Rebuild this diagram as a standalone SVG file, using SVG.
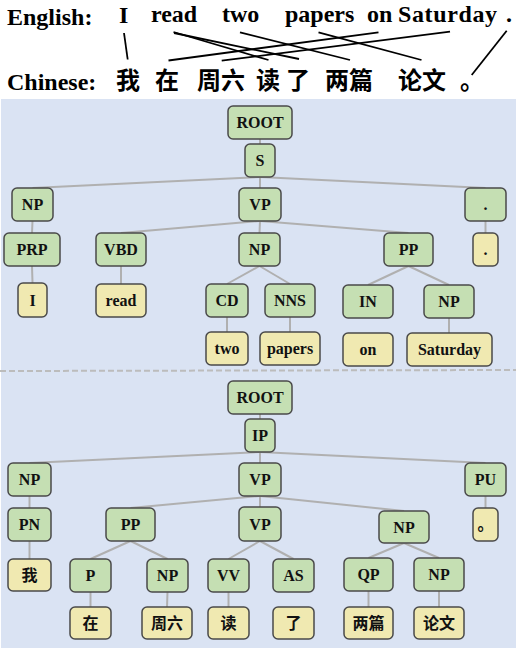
<svg xmlns="http://www.w3.org/2000/svg" width="516" height="650" viewBox="0 0 516 650">
<style>
.hdr{font-family:"Liberation Serif","Times New Roman",serif;font-weight:bold;font-size:24px;fill:#000}
.zh{font-family:"Liberation Serif","Noto Sans CJK SC",sans-serif;font-weight:bold;font-size:24px;fill:#000}
.al{stroke:#000;stroke-width:1.8;fill:none}
.g rect{fill:#c5dfb3;stroke:#4a4a4a;stroke-width:1.5}
.y rect{fill:#f0e9b1;stroke:#4a4a4a;stroke-width:1.5}
.n text{font-family:"Liberation Serif","Noto Sans CJK SC",serif;font-weight:bold;font-size:16px;fill:#111;text-anchor:middle}
.e line{stroke:#b0b0b0;stroke-width:2}
</style>
<rect x="1" y="99" width="515" height="549" fill="#dae3f3"/>
<line x1="0" y1="371" x2="516" y2="370" stroke="#bcbcbc" stroke-width="2" stroke-dasharray="6 3"/>
<g id="sentences">
<text class="hdr" x="7" y="25">English:</text>
<text class="hdr" x="119" y="22.5">I</text>
<text class="hdr" x="151" y="21.5">read</text>
<text class="hdr" x="222" y="21.5">two</text>
<text class="hdr" x="285" y="21.5">papers</text>
<text class="hdr" x="367" y="21.5">on</text>
<text class="hdr" x="398" y="21.5" textLength="99" lengthAdjust="spacing">Saturday</text>
<text class="hdr" x="506" y="21.5">.</text>
<text class="hdr" x="7" y="89.5">Chinese:</text>
<text class="zh" x="116" y="89">我</text>
<text class="zh" x="155" y="89">在</text>
<text class="zh" x="197" y="89">周六</text>
<text class="zh" x="256" y="89">读</text>
<text class="zh" x="286" y="89">了</text>
<text class="zh" x="325" y="89">两篇</text>
<text class="zh" x="398" y="89">论文</text>
<text class="zh" x="460" y="89">。</text>
</g>
<g id="alignments" class="al">
<line x1="124" y1="33" x2="127.7" y2="59.5"/>
<line x1="173.5" y1="32" x2="268.5" y2="60"/>
<line x1="174" y1="33" x2="299" y2="59"/>
<line x1="240" y1="32.3" x2="350" y2="60"/>
<line x1="318.5" y1="32.3" x2="421.5" y2="60"/>
<line x1="378.5" y1="32.3" x2="168.5" y2="60.5"/>
<line x1="450" y1="31.7" x2="221.7" y2="60.7"/>
<line x1="506.7" y1="30.7" x2="471.7" y2="75"/>
</g>
<g id="connectors" class="e">
<line x1="260" y1="139" x2="260" y2="144"/>
<line x1="260" y1="177" x2="32.5" y2="188"/>
<line x1="260" y1="177" x2="260" y2="188"/>
<line x1="260" y1="177" x2="485.5" y2="188"/>
<line x1="32.5" y1="221" x2="32" y2="233"/>
<line x1="260" y1="221" x2="121" y2="233"/>
<line x1="260" y1="221" x2="259.5" y2="233"/>
<line x1="260" y1="221" x2="408.5" y2="233"/>
<line x1="485.5" y1="221" x2="485.5" y2="233"/>
<line x1="32" y1="266" x2="32.5" y2="283"/>
<line x1="121" y1="266" x2="121" y2="284"/>
<line x1="259.5" y1="266" x2="227" y2="284"/>
<line x1="259.5" y1="266" x2="290" y2="284"/>
<line x1="408.5" y1="266" x2="368" y2="285"/>
<line x1="408.5" y1="266" x2="449" y2="285"/>
<line x1="227" y1="317" x2="227" y2="332"/>
<line x1="290" y1="317" x2="290" y2="332"/>
<line x1="449" y1="318" x2="449" y2="333"/>
<line x1="260" y1="414" x2="260" y2="419"/>
<line x1="260" y1="452" x2="29.5" y2="463"/>
<line x1="260" y1="452" x2="260" y2="463"/>
<line x1="260" y1="452" x2="485.5" y2="463"/>
<line x1="29.5" y1="496" x2="29.5" y2="508"/>
<line x1="260" y1="496" x2="130.5" y2="508"/>
<line x1="260" y1="496" x2="260" y2="507"/>
<line x1="260" y1="496" x2="404" y2="511"/>
<line x1="485.5" y1="496" x2="485.5" y2="508"/>
<line x1="29.5" y1="541" x2="29.5" y2="559"/>
<line x1="130.5" y1="541" x2="90.5" y2="559"/>
<line x1="130.5" y1="541" x2="167.5" y2="559"/>
<line x1="260" y1="541" x2="228.5" y2="559"/>
<line x1="260" y1="541" x2="293.5" y2="559"/>
<line x1="404" y1="543" x2="368.5" y2="558"/>
<line x1="404" y1="543" x2="439" y2="558"/>
<line x1="90.5" y1="592" x2="90.5" y2="607"/>
<line x1="167.5" y1="592" x2="167" y2="607"/>
<line x1="228.5" y1="592" x2="228.5" y2="607"/>
<line x1="368.5" y1="591" x2="368.5" y2="607"/>
<line x1="439" y1="591" x2="439" y2="607"/>
</g>
<g id="n-root" class="n g"><rect x="228" y="106" width="64" height="33" rx="5"/><text x="260" y="128">ROOT</text></g>
<g id="n-s" class="n g"><rect x="245" y="144" width="30" height="33" rx="5"/><text x="260" y="166">S</text></g>
<g id="n-np1" class="n g"><rect x="12" y="188" width="41" height="33" rx="5"/><text x="32.5" y="210">NP</text></g>
<g id="n-vp1" class="n g"><rect x="239" y="188" width="42" height="33" rx="5"/><text x="260" y="210">VP</text></g>
<g id="n-dot1" class="n g"><rect x="465" y="188" width="41" height="33" rx="5"/><text x="485.5" y="210">.</text></g>
<g id="n-prp" class="n g"><rect x="4" y="233" width="56" height="33" rx="5"/><text x="32" y="255">PRP</text></g>
<g id="n-vbd" class="n g"><rect x="96" y="233" width="50" height="33" rx="5"/><text x="121" y="255">VBD</text></g>
<g id="n-np2" class="n g"><rect x="239" y="233" width="41" height="33" rx="5"/><text x="259.5" y="255">NP</text></g>
<g id="n-pp1" class="n g"><rect x="384" y="233" width="49" height="33" rx="5"/><text x="408.5" y="255">PP</text></g>
<g id="n-dot2" class="n y"><rect x="473" y="233" width="25" height="33" rx="5"/><text x="485.5" y="255">.</text></g>
<g id="n-i" class="n y"><rect x="18" y="283" width="29" height="34" rx="5"/><text x="32.5" y="305.5">I</text></g>
<g id="n-read" class="n y"><rect x="96" y="284" width="50" height="33" rx="5"/><text x="121" y="306">read</text></g>
<g id="n-cd" class="n g"><rect x="206" y="284" width="42" height="33" rx="5"/><text x="227" y="306">CD</text></g>
<g id="n-nns" class="n g"><rect x="265" y="284" width="50" height="33" rx="5"/><text x="290" y="306">NNS</text></g>
<g id="n-in" class="n g"><rect x="343" y="285" width="50" height="33" rx="5"/><text x="368" y="307">IN</text></g>
<g id="n-np3" class="n g"><rect x="424" y="285" width="50" height="33" rx="5"/><text x="449" y="307">NP</text></g>
<g id="n-two" class="n y"><rect x="206" y="332" width="42" height="33" rx="5"/><text x="227" y="354">two</text></g>
<g id="n-papers" class="n y"><rect x="260" y="332" width="60" height="33" rx="5"/><text x="290" y="354">papers</text></g>
<g id="n-on" class="n y"><rect x="343" y="333" width="50" height="33" rx="5"/><text x="368" y="355">on</text></g>
<g id="n-saturday" class="n y"><rect x="407" y="333" width="85" height="33" rx="5"/><text x="449.5" y="355">Saturday</text></g>
<g id="n-root2" class="n g"><rect x="228" y="381" width="64" height="33" rx="5"/><text x="260" y="403">ROOT</text></g>
<g id="n-ip" class="n g"><rect x="245" y="419" width="30" height="33" rx="5"/><text x="260" y="441">IP</text></g>
<g id="n-np4" class="n g"><rect x="8" y="463" width="43" height="33" rx="5"/><text x="29.5" y="485">NP</text></g>
<g id="n-vp2" class="n g"><rect x="239" y="463" width="42" height="33" rx="5"/><text x="260" y="485">VP</text></g>
<g id="n-pu" class="n g"><rect x="465" y="463" width="41" height="33" rx="5"/><text x="485.5" y="485">PU</text></g>
<g id="n-pn" class="n g"><rect x="8" y="508" width="43" height="33" rx="5"/><text x="29.5" y="530">PN</text></g>
<g id="n-pp2" class="n g"><rect x="106" y="508" width="49" height="33" rx="5"/><text x="130.5" y="530">PP</text></g>
<g id="n-vp3" class="n g"><rect x="239" y="507" width="42" height="34" rx="5"/><text x="260" y="529.5">VP</text></g>
<g id="n-np5" class="n g"><rect x="379" y="511" width="50" height="32" rx="5"/><text x="404" y="532.5">NP</text></g>
<g id="n-ju" class="n y"><rect x="473" y="508" width="25" height="33" rx="5"/><text x="485.5" y="530">。</text></g>
<g id="n-wo" class="n y"><rect x="8" y="559" width="43" height="32" rx="5"/><text x="29.5" y="580.5">我</text></g>
<g id="n-p" class="n g"><rect x="70" y="559" width="41" height="33" rx="5"/><text x="90.5" y="581">P</text></g>
<g id="n-np6" class="n g"><rect x="147" y="559" width="41" height="33" rx="5"/><text x="167.5" y="581">NP</text></g>
<g id="n-vv" class="n g"><rect x="208" y="559" width="41" height="33" rx="5"/><text x="228.5" y="581">VV</text></g>
<g id="n-as" class="n g"><rect x="273" y="559" width="41" height="33" rx="5"/><text x="293.5" y="581">AS</text></g>
<g id="n-qp" class="n g"><rect x="344" y="558" width="49" height="33" rx="5"/><text x="368.5" y="580">QP</text></g>
<g id="n-np7" class="n g"><rect x="414" y="558" width="50" height="33" rx="5"/><text x="439" y="580">NP</text></g>
<g id="n-zai" class="n y"><rect x="70" y="607" width="41" height="32" rx="5"/><text x="90.5" y="628.5">在</text></g>
<g id="n-zhouliu" class="n y"><rect x="142" y="607" width="50" height="32" rx="5"/><text x="167" y="628.5">周六</text></g>
<g id="n-du" class="n y"><rect x="208" y="607" width="41" height="32" rx="5"/><text x="228.5" y="628.5">读</text></g>
<g id="n-le" class="n y"><rect x="273" y="607" width="41" height="32" rx="5"/><text x="293.5" y="628.5">了</text></g>
<g id="n-liangpian" class="n y"><rect x="344" y="607" width="49" height="32" rx="5"/><text x="368.5" y="628.5">两篇</text></g>
<g id="n-lunwen" class="n y"><rect x="414" y="607" width="50" height="32" rx="5"/><text x="439" y="628.5">论文</text></g>
</svg>
